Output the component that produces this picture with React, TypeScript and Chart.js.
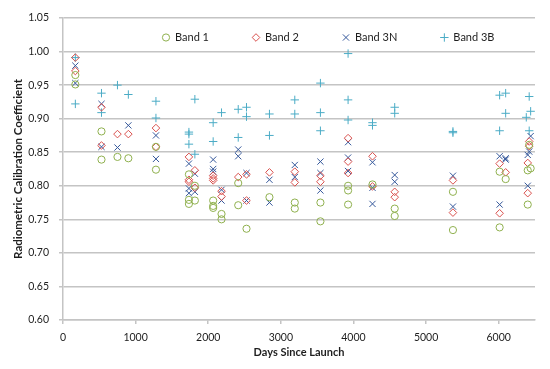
import { useEffect, useRef } from "react";
import { Chart, registerables } from "chart.js";
import { drawPoint } from "chart.js/helpers";

Chart.register(...registerables);

const seriesNames = ["Band 1", "Band 2", "Band 3N", "Band 3B"];
const xTitle = "Days Since Launch";
const yTitle = "Radiometric Calibration Coefficient";
const xTickValues = [0, 1000, 2000, 3000, 4000, 5000, 6000];
const yTickValues = [0.6, 0.65, 0.7, 0.75, 0.8, 0.85, 0.9, 0.95, 1.0, 1.05];

const band1Days = [170, 170, 530, 530, 750, 900, 1280, 1280, 1734, 1734, 1734, 1816, 1816, 2068, 2068, 2068, 2183, 2183, 2413, 2413, 2527, 2843, 3192, 3192, 3545, 3545, 3926, 3926, 3926, 4262, 4568, 4568, 5370, 5370, 6013, 6013, 6096, 6420, 6440, 6400, 6400];
const band1Values = [0.965, 0.951, 0.881, 0.839, 0.843, 0.841, 0.858, 0.824, 0.817, 0.779, 0.773, 0.8, 0.778, 0.778, 0.77, 0.767, 0.758, 0.75, 0.804, 0.771, 0.736, 0.783, 0.775, 0.766, 0.775, 0.747, 0.8, 0.793, 0.772, 0.802, 0.766, 0.755, 0.791, 0.734, 0.821, 0.738, 0.81, 0.861, 0.826, 0.823, 0.772];

const band2Days = [170, 170, 530, 530, 750, 900, 1280, 1280, 1734, 1734, 1734, 1816, 1816, 2068, 2068, 2068, 2183, 2183, 2413, 2527, 2527, 2843, 3192, 3192, 3545, 3545, 3926, 3926, 3926, 4262, 4262, 4568, 4568, 5370, 5370, 6013, 6013, 6096, 6420, 6420, 6400, 6400];
const band2Values = [0.991, 0.971, 0.917, 0.86, 0.877, 0.877, 0.886, 0.858, 0.843, 0.809, 0.806, 0.823, 0.797, 0.815, 0.811, 0.808, 0.792, 0.784, 0.813, 0.817, 0.778, 0.82, 0.821, 0.805, 0.815, 0.806, 0.871, 0.836, 0.819, 0.844, 0.799, 0.791, 0.783, 0.808, 0.76, 0.833, 0.759, 0.82, 0.866, 0.859, 0.834, 0.789];

const band3NDays = [170, 170, 530, 530, 750, 900, 1280, 1280, 1734, 1734, 1734, 1816, 1816, 2068, 2068, 2068, 2183, 2183, 2413, 2413, 2527, 2527, 2843, 2843, 3192, 3192, 3545, 3545, 3545, 3926, 3926, 3926, 4262, 4262, 4262, 4568, 4568, 5370, 5370, 6013, 6013, 6096, 6096, 6440, 6420, 6400, 6400];
const band3NValues = [0.979, 0.953, 0.922, 0.858, 0.857, 0.89, 0.875, 0.84, 0.833, 0.796, 0.789, 0.818, 0.791, 0.839, 0.825, 0.821, 0.794, 0.778, 0.854, 0.844, 0.819, 0.778, 0.809, 0.775, 0.831, 0.813, 0.836, 0.819, 0.793, 0.865, 0.842, 0.822, 0.835, 0.797, 0.773, 0.816, 0.806, 0.815, 0.769, 0.844, 0.772, 0.841, 0.839, 0.874, 0.851, 0.846, 0.8];

const band3BDays = [170, 170, 530, 530, 750, 900, 1280, 1280, 1734, 1734, 1734, 1816, 1816, 2068, 2068, 2183, 2413, 2413, 2527, 2527, 2843, 2843, 3192, 3192, 3545, 3545, 3545, 3926, 3926, 3926, 4262, 4262, 4568, 4568, 5370, 5370, 6013, 6013, 6096, 6096, 6420, 6440, 6380, 6420];
const band3BValues = [0.991, 0.922, 0.938, 0.909, 0.95, 0.936, 0.926, 0.901, 0.88, 0.877, 0.862, 0.929, 0.847, 0.894, 0.866, 0.909, 0.914, 0.872, 0.917, 0.903, 0.907, 0.875, 0.928, 0.907, 0.953, 0.909, 0.882, 0.997, 0.928, 0.898, 0.894, 0.89, 0.917, 0.908, 0.881, 0.879, 0.935, 0.882, 0.938, 0.908, 0.933, 0.911, 0.902, 0.882];

const FONT = "Lato, 'Liberation Sans', sans-serif";
const GRID = "#c4c4c4";
const TEXT = "#1e1e1e";

function zip(days: number[], values: number[]) {
  return days.map((d, i) => ({ x: d, y: values[i] }));
}

export default function App() {
  const ref = useRef<HTMLCanvasElement>(null);

  useEffect(() => {
    document.body.style.margin = "0";
    const canvas = ref.current;
    if (!canvas) return;

    // In-plot legend row (as in the reference, drawn inside the chart area)
    const inPlotLegend = {
      id: "inPlotLegend",
      afterDatasetsDraw(chart: any) {
        const ctx = chart.ctx;
        const fontSize = 11;
        const boxW = 7;
        const gap = 43.5;
        let x = 162.5;
        const cy = 37.5;
        ctx.save();
        ctx.font = `${fontSize}px ${FONT}`;
        ctx.textBaseline = "middle";
        ctx.textAlign = "left";
        chart.data.datasets.forEach((ds: any) => {
          ctx.strokeStyle = ds.pointBorderColor;
          ctx.fillStyle = "transparent";
          ctx.lineWidth = 1;
          drawPoint(ctx, { pointStyle: ds.pointStyle, radius: ds.pointRadius, rotation: 0, borderWidth: 1 }, x + boxW / 2, cy);
          ctx.fillStyle = TEXT;
          const tx = x + boxW + fontSize / 2;
          ctx.fillText(ds.label, tx, cy);
          x = tx + ctx.measureText(ds.label).width + gap;
        });
        ctx.restore();
      },
    };

    const mk = (label: string, data: any[], style: string, color: string, radius: number) => ({
      label,
      data,
      pointStyle: style,
      pointRadius: radius,
      pointHoverRadius: radius,
      pointBorderWidth: 1,
      borderWidth: 1,
      borderColor: color,
      backgroundColor: "transparent",
      pointBackgroundColor: "transparent",
      pointBorderColor: color,
      showLine: false,
    });

    const chart = new Chart(canvas, {
      type: "scatter",
      data: {
        datasets: [
          mk(seriesNames[0], zip(band1Days, band1Values), "circle", "#8fb04e", 3.6),
          mk(seriesNames[1], zip(band2Days, band2Values), "rectRot", "#d9504d", 3.8),
          mk(seriesNames[2], zip(band3NDays, band3NValues), "crossRot", "#34579a", 4.4),
          mk(seriesNames[3], zip(band3BDays, band3BValues), "cross", "#4bacc6", 4.2),
        ],
      },
      options: {
        responsive: false,
        animation: false,
        events: [],
        layout: { padding: { top: 18, right: 15, left: 0, bottom: 0 } },
        plugins: {
          tooltip: { enabled: false },
          legend: { display: false },
        },
        scales: {
          x: {
            type: "linear",
            min: 0,
            max: 6500,
            afterFit: (s: any) => {
              s.height = 49;
            },
            afterBuildTicks: (s: any) => {
              s.ticks = xTickValues.map((v) => ({ value: v }));
            },
            ticks: {
              color: TEXT,
              font: { family: FONT, size: 10.5 },
              padding: 7,
              maxRotation: 0,
              callback: (v: any) => String(v),
            },
            grid: {
              drawOnChartArea: false,
              drawTicks: true,
              tickLength: 4,
              color: GRID,
              lineWidth: 1.5,
            },
            border: { display: true, color: GRID, width: 1.5 },
            title: {
              display: true,
              text: xTitle,
              color: TEXT,
              font: { family: FONT, size: 11, weight: "bold" },
              padding: { top: 0, bottom: 9.5 },
            },
          },
          y: {
            type: "linear",
            min: 0.6,
            max: 1.05,
            afterFit: (s: any) => {
              s.width = 63;
            },
            afterBuildTicks: (s: any) => {
              s.ticks = yTickValues.map((v) => ({ value: v }));
            },
            ticks: {
              color: TEXT,
              font: { family: FONT, size: 10.5 },
              padding: 10,
              callback: (v: any) => Number(v).toFixed(2),
            },
            grid: {
              drawTicks: true,
              tickLength: 4,
              color: GRID,
              lineWidth: 1.5,
            },
            border: { display: true, color: GRID, width: 1.5 },
            title: {
              display: true,
              text: yTitle,
              color: TEXT,
              font: { family: FONT, size: 11.5, weight: "bold" },
              padding: { top: 11, bottom: 0 },
            },
          },
        },
      },
      plugins: [inPlotLegend],
    } as any);

    return () => chart.destroy();
  }, []);

  return (
    <div style={{ width: 550, height: 369 }}>
      <canvas ref={ref} width={550} height={369} style={{ display: "block" }} />
    </div>
  );
}
